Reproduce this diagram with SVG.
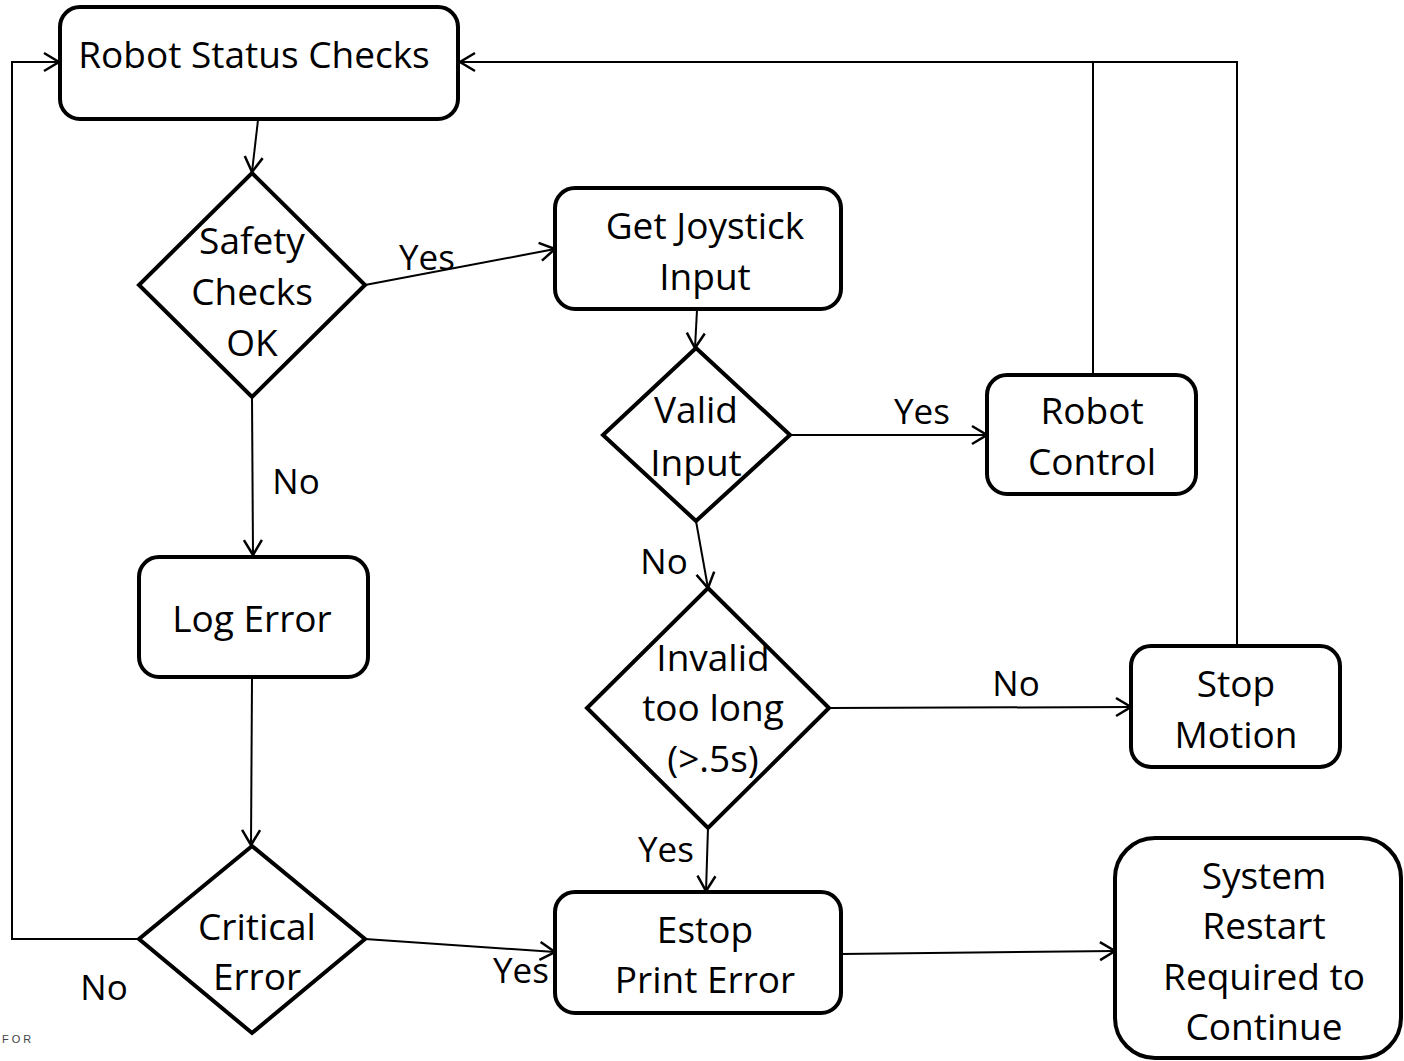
<svg xmlns="http://www.w3.org/2000/svg" width="1404" height="1061" viewBox="0 0 1404 1061">
<style>
.box{fill:#fff;stroke:#000;stroke-width:4}
.t{font-family:"Open Sans","Liberation Sans",sans-serif;font-size:37px;fill:#000;text-anchor:middle}
.lbl{font-family:"Open Sans","Liberation Sans",sans-serif;font-size:35px;fill:#000;text-anchor:middle}
.c{fill:none;stroke:#000;stroke-width:2}
</style>
<defs>
<marker id="arr" markerUnits="userSpaceOnUse" markerWidth="30" markerHeight="30" viewBox="-20 -15 30 30" refX="0" refY="0" orient="auto">
<path d="M-15,-9 L0,0 L-15,9" fill="none" stroke="#000" stroke-width="2.5"/>
</marker>
</defs>
<rect width="1404" height="1061" fill="#fff"/>
<g id="connectors">
<line class="c" x1="258" y1="120" x2="252" y2="172" marker-end="url(#arr)"/>
<line class="c" x1="365" y1="285" x2="555" y2="249" marker-end="url(#arr)"/>
<line class="c" x1="697" y1="310" x2="695" y2="348" marker-end="url(#arr)"/>
<line class="c" x1="790" y1="435" x2="987" y2="435" marker-end="url(#arr)"/>
<polyline class="c" points="1093,375 1093,62" />
<polyline class="c" points="1237,646 1237,62 460,62" marker-end="url(#arr)"/>
<line class="c" x1="696" y1="521" x2="708" y2="588" marker-end="url(#arr)"/>
<line class="c" x1="829" y1="708" x2="1131" y2="707" marker-end="url(#arr)"/>
<line class="c" x1="708" y1="828" x2="706" y2="891" marker-end="url(#arr)"/>
<line class="c" x1="841" y1="954" x2="1115" y2="951" marker-end="url(#arr)"/>
<line class="c" x1="252" y1="397" x2="253" y2="555" marker-end="url(#arr)"/>
<line class="c" x1="252" y1="678" x2="251" y2="845" marker-end="url(#arr)"/>
<line class="c" x1="365" y1="939" x2="555" y2="952" marker-end="url(#arr)"/>
<polyline class="c" points="139,939 12,939 12,62 59,62" marker-end="url(#arr)"/>
<text class="lbl" x="427" y="270">Yes</text>
<text class="lbl" x="922" y="424">Yes</text>
<text class="lbl" x="664" y="574">No</text>
<text class="lbl" x="1016" y="696">No</text>
<text class="lbl" x="666" y="862">Yes</text>
<text class="lbl" x="296" y="494">No</text>
<text class="lbl" x="521" y="983">Yes</text>
<text class="lbl" x="104" y="1000">No</text>
</g>
<g id="robot-status">
<rect class="box" x="60" y="7" width="398" height="112" rx="20"/>
<text class="t" x="254" y="68">Robot Status Checks</text>
</g>
<g id="safety">
<polygon class="box" points="252,173 365,285 252,397 139,285"/>
<text class="t" x="252" y="254">Safety</text>
<text class="t" x="252" y="305">Checks</text>
<text class="t" x="252" y="356">OK</text>
</g>
<g id="joystick">
<rect class="box" x="555" y="188" width="286" height="121" rx="20"/>
<text class="t" x="705" y="239">Get Joystick</text>
<text class="t" x="705" y="290">Input</text>
</g>
<g id="valid">
<polygon class="box" points="696,348 790,435 696,521 603,435"/>
<text class="t" x="696" y="423">Valid</text>
<text class="t" x="696" y="476">Input</text>
</g>
<g id="robot-control">
<rect class="box" x="987" y="375" width="209" height="119" rx="20"/>
<text class="t" x="1092" y="424">Robot</text>
<text class="t" x="1092" y="475">Control</text>
</g>
<g id="invalid">
<polygon class="box" points="708,588 829,708 708,828 587,708"/>
<text class="t" x="713" y="671">Invalid</text>
<text class="t" x="713" y="721">too long</text>
<text class="t" x="713" y="772">(&gt;.5s)</text>
</g>
<g id="stop-motion">
<rect class="box" x="1131" y="646" width="209" height="121" rx="20"/>
<text class="t" x="1236" y="697">Stop</text>
<text class="t" x="1236" y="748">Motion</text>
</g>
<g id="log-error">
<rect class="box" x="139" y="557" width="229" height="120" rx="20"/>
<text class="t" x="252" y="632">Log Error</text>
</g>
<g id="critical">
<polygon class="box" points="252,846 365,939 252,1033 139,939"/>
<text class="t" x="257" y="940">Critical</text>
<text class="t" x="257" y="990">Error</text>
</g>
<g id="estop">
<rect class="box" x="555" y="892" width="286" height="121" rx="20"/>
<text class="t" x="705" y="943">Estop</text>
<text class="t" x="705" y="993">Print Error</text>
</g>
<g id="restart">
<rect class="box" x="1115" y="838" width="286" height="220" rx="40"/>
<text class="t" x="1264" y="889">System</text>
<text class="t" x="1264" y="939">Restart</text>
<text class="t" x="1264" y="990">Required to</text>
<text class="t" x="1264" y="1040">Continue</text>
</g>
<text x="2" y="1043" font-family="Liberation Sans, sans-serif" font-size="11" fill="#444" letter-spacing="3">FOR</text>
</svg>
